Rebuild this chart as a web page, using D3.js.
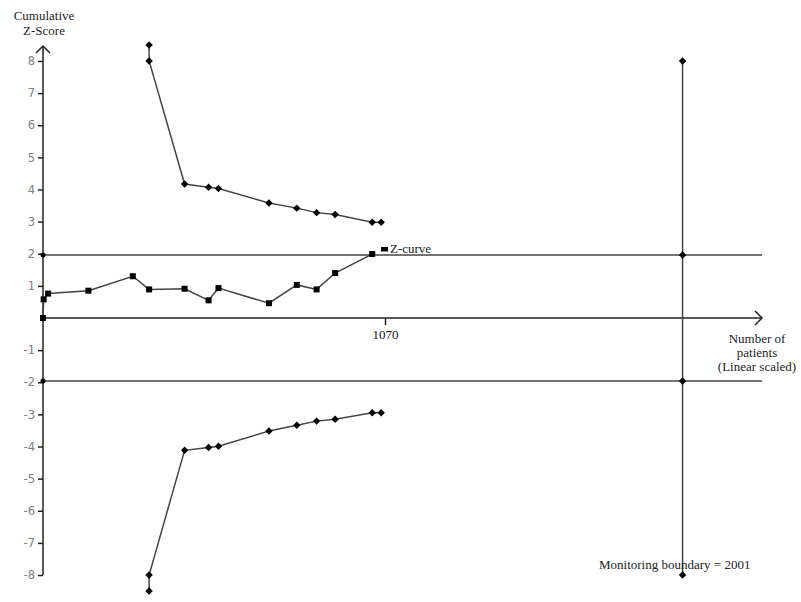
<!DOCTYPE html>
<html>
<head>
<meta charset="utf-8">
<script src="https://cdn.jsdelivr.net/npm/d3@7"></script>
<style>
  html, body { margin: 0; padding: 0; background: #fff; }
  svg { display: block; }
</style>
</head>
<body>
<svg id="chart" width="801" height="602"></svg>
<script>
// Cumulative number of patients after each trial and the cumulative Z-score
const trialPatients = [0, 2, 16, 142, 281, 332, 443, 518, 549, 707, 794, 856, 914, 1030];
const zCurve = [0, 0.58, 0.76, 0.85, 1.30, 0.89, 0.91, 0.55, 0.93, 0.46, 1.03, 0.89, 1.40, 1.99];

// Trial sequential monitoring boundaries
const boundaryPatients = [332, 332, 443, 518, 549, 707, 794, 856, 914, 1030, 1058];
const upperBoundary = [8.5, 8.0, 4.17, 4.07, 4.03, 3.58, 3.42, 3.28, 3.22, 2.98, 2.98];
const lowerBoundary = [-8.5, -8.0, -4.12, -4.03, -3.99, -3.52, -3.34, -3.21, -3.15, -2.95, -2.95];

// Conventional significance levels and the required information size
const conventionalZ = [1.96, -1.96];
const requiredSize = 2001;
const monitoringZ = [8, 1.96, -1.96, -8];

const yTicks = [8, 7, 6, 5, 4, 3, 2, 1, -1, -2, -3, -4, -5, -6, -7, -8];
const xTicks = [1070];

const svg = d3.select("#chart");
const x = d3.scaleLinear().domain([0, 1070]).range([43, 385]);
const y = d3.scaleLinear().domain([-8, 8]).range([575, 61]);
const xEnd = 762;

const ink = "#222";
const lineInk = "#444";
const serif = "'Liberation Serif', 'Times New Roman', serif";

// y axis with ticks
const yAxis = svg.append("g").attr("transform", `translate(${x(0)},0)`)
  .call(d3.axisLeft(y).tickValues(yTicks).tickSize(5).tickPadding(3).tickFormat(d => d < 0 ? "-" + Math.abs(d) : d));
yAxis.select(".domain").remove();
yAxis.selectAll(".tick line").attr("stroke", ink).attr("stroke-width", 1.5);
yAxis.selectAll(".tick text").attr("fill", "#808080").style("font-family", "'DejaVu Sans', sans-serif").style("font-size", "11.5px");
svg.append("line").attr("x1", x(0)).attr("x2", x(0)).attr("y1", y(-8)).attr("y2", 46)
  .attr("stroke", ink).attr("stroke-width", 1.5);
svg.append("path").attr("d", `M${x(0) - 7},${53} L${x(0)},${46} L${x(0) + 7},${53}`)
  .attr("fill", "none").attr("stroke", ink).attr("stroke-width", 1.5);

// x axis with ticks
const xAxis = svg.append("g").attr("transform", `translate(0,${y(0)})`)
  .call(d3.axisBottom(x).tickValues(xTicks).tickSize(7).tickPadding(5).tickFormat(d3.format("d")));
xAxis.select(".domain").remove();
xAxis.selectAll(".tick line").attr("stroke", ink).attr("stroke-width", 1.5);
xAxis.selectAll(".tick text").attr("fill", "#111").style("font-family", serif).style("font-size", "13px");
svg.append("line").attr("x1", x(0)).attr("x2", xEnd).attr("y1", y(0)).attr("y2", y(0))
  .attr("stroke", ink).attr("stroke-width", 1.5);
svg.append("path").attr("d", `M${xEnd - 7},${y(0) - 7} L${xEnd},${y(0)} L${xEnd - 7},${y(0) + 7}`)
  .attr("fill", "none").attr("stroke", ink).attr("stroke-width", 1.5);

// conventional boundaries
svg.selectAll(".conv").data(conventionalZ).join("line")
  .attr("x1", x(0)).attr("x2", xEnd).attr("y1", d => y(d)).attr("y2", d => y(d))
  .attr("stroke", lineInk).attr("stroke-width", 1.5);
svg.selectAll(".convDot").data(conventionalZ).join("circle")
  .attr("cx", x(0)).attr("cy", d => y(d)).attr("r", 2.5).attr("fill", "#000");

// required information size line
svg.append("line").attr("x1", x(requiredSize)).attr("x2", x(requiredSize))
  .attr("y1", y(8)).attr("y2", y(-8)).attr("stroke", lineInk).attr("stroke-width", 1.5);

// boundary marker: a square turned on its corner
const marker = d3.symbol().type(d3.symbolSquare).size(28);
const place = (px, py) => `translate(${px},${py}) rotate(45)`;
svg.selectAll(".ris").data(monitoringZ).join("path")
  .attr("d", marker).attr("transform", d => place(x(requiredSize), y(d))).attr("fill", "#000");

// monitoring boundaries
const upperPts = boundaryPatients.map((n, i) => [n, upperBoundary[i]]);
const lowerPts = boundaryPatients.map((n, i) => [n, lowerBoundary[i]]);
const line = d3.line().x(d => x(d[0])).y(d => y(d[1]));
[upperPts, lowerPts].forEach(pts => {
  svg.append("path").attr("d", line(pts)).attr("fill", "none")
    .attr("stroke", lineInk).attr("stroke-width", 1.5);
  svg.append("g").selectAll("path").data(pts).join("path")
    .attr("d", marker).attr("transform", d => place(x(d[0]), y(d[1]))).attr("fill", "#000");
});

// Z-curve
const zPts = trialPatients.map((n, i) => [n, zCurve[i]]);
svg.append("path").attr("d", line(zPts)).attr("fill", "none")
  .attr("stroke", lineInk).attr("stroke-width", 1.5);
svg.append("g").selectAll("rect").data(zPts).join("rect")
  .attr("x", d => x(d[0]) - 3).attr("y", d => y(d[1]) - 3)
  .attr("width", 6).attr("height", 6).attr("fill", "#000");

// Z-curve legend
svg.append("rect").attr("x", 381).attr("y", 247).attr("width", 7).attr("height", 4.5).attr("fill", "#000");
svg.append("text").attr("x", 390).attr("y", 253).text("Z-curve")
  .style("font-family", serif).style("font-size", "13px").attr("fill", "#222");

// axis titles
const yTitle = svg.append("text").attr("text-anchor", "middle")
  .style("font-family", serif).style("font-size", "13px").attr("fill", "#222");
yTitle.append("tspan").attr("x", 44).attr("y", 20).text("Cumulative");
yTitle.append("tspan").attr("x", 44).attr("y", 35).text("Z-Score");

const xTitle = svg.append("text").attr("text-anchor", "middle")
  .style("font-family", serif).style("font-size", "13px").attr("fill", "#222");
xTitle.append("tspan").attr("x", 757).attr("y", 343).text("Number of");
xTitle.append("tspan").attr("x", 757).attr("y", 357).text("patients");
xTitle.append("tspan").attr("x", 757).attr("y", 371).text("(Linear scaled)");

svg.append("text").attr("x", 599).attr("y", 569).text("Monitoring boundary = " + requiredSize)
  .style("font-family", serif).style("font-size", "13px").attr("fill", "#222");
</script>
</body>
</html>
